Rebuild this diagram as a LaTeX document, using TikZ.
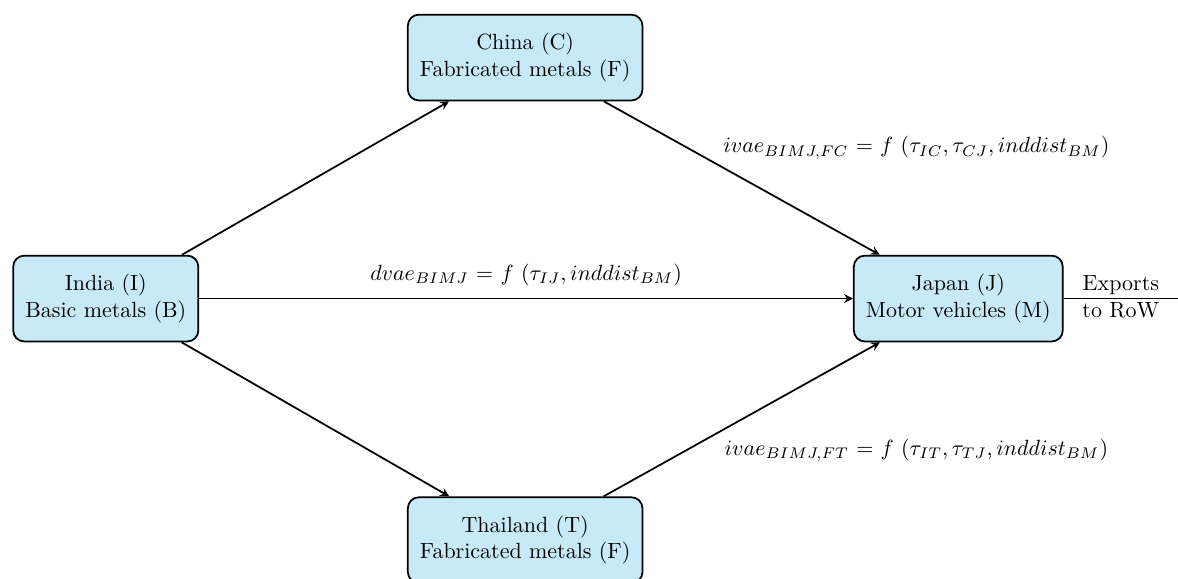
\documentclass[tikz,border=0pt]{standalone}
\usetikzlibrary{arrows}
\definecolor{boxblue}{RGB}{199,233,248}
\begin{document}
\begin{tikzpicture}[
    country/.style={draw, thick, rounded corners=5pt, fill=boxblue, align=center, inner xsep=5.5pt, minimum height=39pt},
    flow/.style={-stealth, thick}]
    \useasboundingbox (0,0) rectangle (18.82,9.25);

    %az orszagok es az agazatok dobozai
    \node[country] (india) at (1.69,4.48) {India (I)\\Basic metals (B)};
    \node[country] (china) at (8.39,8.33) {China (C)\\Fabricated metals (F)};
    \node[country] (japan) at (15.31,4.48) {Japan (J)\\Motor vehicles (M)};
    \node[country] (thai) at (8.39,0.62) {Thailand (T)\\Fabricated metals (F)};
    \coordinate (row) at (18.82,4.48);

    %a koztes es a kozvetlen utak
    \draw[flow] (india) -- (china);
    \draw[flow] (china) -- (japan);
    \draw[flow] (india) -- (thai);
    \draw[flow] (thai) -- (japan);
    \draw[flow] (india) -- node[above, yshift=2pt] (dlabel) {$dvae_{BIMJ}$ = $f\ (\tau_{IJ}, inddist_{BM})$} (japan);

    %az export a vilag tobbi reszebe
    \draw[thick] (japan) -- node[above, inner sep=1.5pt] (exp) {Exports} node[below, inner sep=1.5pt] (rw) {to RoW} (row);

    %a hozzaadott ertek feliratai
    \node (clabel) at (14.64,6.89) {$ivae_{BIMJ,FC}$ = $f\ (\tau_{IC}, \tau_{CJ}, inddist_{BM})$};
    \node (tlabel) at (14.64,2.06) {$ivae_{BIMJ,FT}$ = $f\ (\tau_{IT}, \tau_{TJ}, inddist_{BM})$};
\end{tikzpicture}
\end{document}
